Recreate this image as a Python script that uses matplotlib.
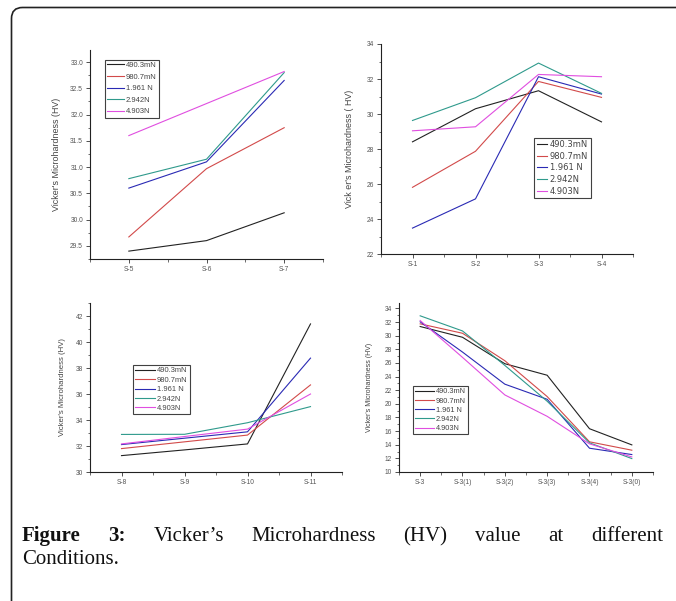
import matplotlib
matplotlib.use("Agg")
import matplotlib.pyplot as plt
from matplotlib.ticker import MultipleLocator, FormatStrFormatter
from matplotlib.path import Path
from matplotlib.patches import PathPatch
from matplotlib.transforms import blended_transform_factory

W, H = 676, 601

series_labels = ["490.3mN", "980.7mN", "1.961 N", "2.942N", "4.903N"]
series_colors = ["#222222", "#d24a4a", "#2a2ab4", "#2f9a8c", "#e04ee0"]

# Panel A (top-left)
cats_a = ["S-5", "S-6", "S-7"]
vals_a = [
    [29.40, 29.60, 30.13],
    [29.67, 30.97, 31.75],
    [30.60, 31.10, 32.65],
    [30.78, 31.15, 32.80],
    [31.60, 32.21, 32.82],
]

# Panel B (top-right)
cats_b = ["S-1", "S-2", "S-3", "S-4"]
vals_b = [
    [28.41, 30.30, 31.33, 29.55],
    [25.81, 27.87, 31.86, 30.95],
    [23.48, 25.15, 32.13, 31.14],
    [29.63, 30.93, 32.91, 31.18],
    [29.04, 29.27, 32.26, 32.13],
]

# Panel C (bottom-left)
cats_c = ["S-8", "S-9", "S-10", "S-11"]
vals_c = [
    [31.26, 31.70, 32.16, 41.39],
    [31.80, 32.32, 32.84, 36.70],
    [32.11, 32.60, 33.09, 38.76],
    [32.89, 32.90, 33.79, 35.03],
    [32.16, 32.73, 33.30, 36.00],
]

# Panel D (bottom-right)
cats_d = ["S-3", "S-3(1)", "S-3(2)", "S-3(3)", "S-3(4)", "S-3(0)"]
vals_d = [
    [31.35, 29.77, 25.89, 24.20, 16.35, 13.98],
    [31.74, 30.36, 26.33, 21.07, 14.43, 13.20],
    [32.04, 27.60, 22.89, 20.67, 13.49, 12.56],
    [32.92, 30.70, 25.64, 20.38, 14.28, 11.97],
    [32.23, 26.82, 21.31, 18.17, 14.13, 12.21],
]

caption_words = ["Figure", "3:", "Vicker\u2019s", "Microhardness", "(HV)", "value", "at", "different"]
caption_line2 = "Conditions."

fig = plt.figure(figsize=(W / 100, H / 100), dpi=100)
fig.patch.set_facecolor("white")

SANS = ["Liberation Sans", "DejaVu Sans"]


def rect(l, t, r, b):
    return [l / W, 1 - b / H, (r - l) / W, (b - t) / H]


def make_panel(box, cats, vals, ylim, major, minor, fmt, ylabel, ylabel_x,
               leg_anchor, ylabel_size=6.4, tick_size=4.8, leg_size=5.5,
               leg_handle=2.2, leg_spacing=0.45, leg_family=SANS):
    ax = fig.add_axes(rect(*box))
    x = list(range(len(cats)))
    for v, lab, c in zip(vals, series_labels, series_colors):
        ax.plot(x, v, color=c, lw=0.8, label=lab)
    ax.set_xlim(-0.5, len(cats) - 0.5)
    ax.set_ylim(*ylim)
    ax.set_xticks(x)
    ax.set_xticklabels(cats)
    ax.xaxis.set_minor_locator(MultipleLocator(0.5))
    ax.yaxis.set_major_locator(MultipleLocator(major))
    ax.yaxis.set_minor_locator(MultipleLocator(minor))
    ax.yaxis.set_major_formatter(FormatStrFormatter(fmt))
    for s in ["top", "right"]:
        ax.spines[s].set_visible(False)
    for s in ["left", "bottom"]:
        ax.spines[s].set_linewidth(0.8)
        ax.spines[s].set_color("#222222")
    ax.tick_params(which="major", length=3, width=0.6, color="#333333",
                   labelsize=tick_size, labelcolor="#555555", pad=2)
    ax.tick_params(which="minor", length=1.8, width=0.5, color="#333333")
    ax.set_ylabel(ylabel, fontsize=ylabel_size, color="#444444", family=SANS)
    ax.yaxis.set_label_coords(ylabel_x, 0.5,
                              transform=blended_transform_factory(fig.transFigure, ax.transAxes))
    leg = ax.legend(loc="upper left", bbox_to_anchor=leg_anchor,
                    bbox_transform=fig.transFigure,
                    prop={"size": leg_size, "family": leg_family},
                    frameon=True, fancybox=False, edgecolor="#111111",
                    handlelength=leg_handle, handletextpad=0.3, borderpad=0.3,
                    labelspacing=leg_spacing, borderaxespad=0.0)
    leg.get_frame().set_linewidth(0.8)
    for t in leg.get_texts():
        t.set_color("#444444")
    for lbl in ax.get_xticklabels() + ax.get_yticklabels():
        lbl.set_family(SANS)
    return ax


make_panel((90, 50, 323, 259), cats_a, vals_a, (29.25, 33.23), 0.5, 0.25, "%.1f",
           "Vicker's Microhardness (HV)", 61 / W, (104.5 / W, 1 - 59.5 / H),
           leg_size=5.5, leg_handle=2.2, leg_spacing=0.55)
make_panel((381, 44, 633, 254), cats_b, vals_b, (22, 34), 2, 1, "%d",
           "Vick er's Microhardness ( HV)", 354 / W, (534 / W, 1 - 137.5 / H),
           leg_size=6.0, leg_handle=1.3, leg_spacing=0.32,
           leg_family=["DejaVu Sans"])
make_panel((90, 303, 342, 472), cats_c, vals_c, (30, 43), 2, 1, "%d",
           "Vicker's Microhardness (HV)", 66 / W, (133 / W, 1 - 365 / H),
           ylabel_size=5.6, leg_size=5.4, leg_handle=2.6, leg_spacing=0.28)
make_panel((399, 303, 653, 472), cats_d, vals_d, (10, 34.8), 2, 1, "%d",
           "Vicker's Microhardness (HV)", 373 / W, (413 / W, 1 - 386 / H),
           ylabel_size=5.0, leg_size=5.3, leg_handle=2.5, leg_spacing=0.28)

# Outer frame: top and left edges with a rounded top-left corner
r = 11
l, t = 11.5, 7.5
verts = [(W + 2, t), (l + r, t), (l, t), (l, t + r), (l, H + 2)]
codes = [Path.MOVETO, Path.LINETO, Path.CURVE3, Path.CURVE3, Path.LINETO]
verts_f = [(vx / W, 1 - vy / H) for vx, vy in verts]
fig.add_artist(PathPatch(Path(verts_f, codes), transform=fig.transFigure,
                         facecolor="none", edgecolor="#222222", lw=1.2))

# Caption (justified first line)
cap_font = ["Liberation Serif", "DejaVu Serif"]
cap_size = 15
fig.canvas.draw()
renderer = fig.canvas.get_renderer()
texts = []
for i, w in enumerate(caption_words):
    tx = fig.text(0, 1 - 541 / H, w, fontsize=cap_size, family=cap_font,
                  weight="bold" if i < 2 else "normal", ha="left",
                  va="baseline", color="#111111")
    texts.append(tx)
widths = [tx.get_window_extent(renderer).width for tx in texts]
x_left, x_right = 22, 663
gap = (x_right - x_left - sum(widths)) / (len(texts) - 1)
cx = x_left
for tx, wd in zip(texts, widths):
    tx.set_x(cx / W)
    cx += wd + gap
fig.text(x_left / W, 1 - 564 / H, caption_line2, fontsize=cap_size,
         family=cap_font, ha="left", va="baseline", color="#111111")

fig.savefig("out.png", dpi=100, facecolor="white")
